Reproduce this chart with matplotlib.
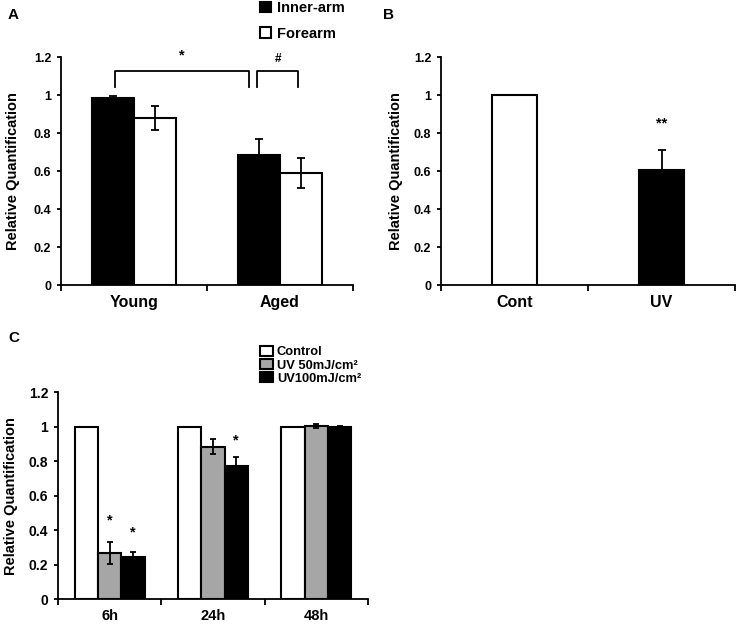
import matplotlib
matplotlib.use('Agg')
import matplotlib.pyplot as plt
import numpy as np

plt.rcParams['font.family'] = ['Liberation Sans', 'DejaVu Sans']
plt.rcParams['font.weight'] = 'bold'

# panel A data
a_groups = ['Young', 'Aged']
a_inner = [0.985, 0.685]
a_inner_err = [0.008, 0.085]
a_fore = [0.88, 0.59]
a_fore_err = [0.062, 0.08]

# panel B data
b_groups = ['Cont', 'UV']
b_vals = [1.0, 0.605]
b_err = [0.0, 0.105]

# panel C data
c_groups = ['6h', '24h', '48h']
c_ctrl = [1.0, 1.0, 1.0]
c_uv50 = [0.27, 0.885, 1.005]
c_uv50_err = [0.065, 0.045, 0.01]
c_uv100 = [0.245, 0.775, 1.0]
c_uv100_err = [0.027, 0.05, 0.006]

W, H = 736, 625
fig = plt.figure(figsize=(W / 100, H / 100), dpi=100)

def px_axes(x0, y0, x1, y1):
    return fig.add_axes([x0 / W, 1 - y1 / H, (x1 - x0) / W, (y1 - y0) / H])

def style(ax, labels, tick_fs, ytick_fs, ylab_x):
    n = len(labels)
    ax.set_xlim(0, n)
    ax.set_ylim(0, 1.2)
    ax.spines['top'].set_visible(False)
    ax.spines['right'].set_visible(False)
    for s in ('left', 'bottom'):
        ax.spines[s].set_linewidth(1.3)
    ax.set_yticks(np.arange(0, 1.21, 0.2))
    ax.set_yticklabels(['0', '0.2', '0.4', '0.6', '0.8', '1', '1.2'])
    ax.tick_params(axis='y', direction='out', length=3, width=1.3, labelsize=ytick_fs, pad=4)
    ax.set_xticks(np.arange(0, n + 1))
    ax.set_xticklabels([])
    ax.tick_params(axis='x', which='major', direction='out', length=4, width=1.3)
    ax.set_xticks(np.arange(n) + 0.5, minor=True)
    ax.set_xticklabels(labels, minor=True, fontsize=tick_fs, fontweight='bold')
    ax.tick_params(axis='x', which='minor', length=0, pad=7)
    ax.set_ylabel('Relative Quantification', fontsize=10.5, fontweight='bold')
    ax.yaxis.set_label_coords(ylab_x, 0.5)

ekw = dict(elinewidth=1.3, capthick=1.3, ecolor='black')

# ---- panel A ----
axA = px_axes(61, 57, 353, 285)
xa = np.arange(len(a_groups)) + 0.5
bw = 0.29
bi = axA.bar(xa - bw / 2, a_inner, bw, color='black', edgecolor='black', linewidth=1.5,
             yerr=a_inner_err, capsize=3, error_kw=ekw, label='Inner-arm')
bf = axA.bar(xa + bw / 2, a_fore, bw, color='white', edgecolor='black', linewidth=1.5,
             yerr=a_fore_err, capsize=3, error_kw=ekw, label='Forearm')
style(axA, a_groups, 11.5, 9, -0.14)

# significance brackets
yb, yt = 1.04, 1.127
x1, x2 = xa[0] - bw / 2 + 0.015, xa[1] - bw / 2 - 0.07
axA.plot([x1, x1, x2, x2], [yb, yt, yt, yb], color='black', lw=1.3, clip_on=False)
axA.text((x1 + x2) / 2, 1.21, '*', ha='center', va='center', fontsize=10.5)
x3, x4 = xa[1] - bw / 2 - 0.01, xa[1] + bw / 2 - 0.02
axA.plot([x3, x3, x4, x4], [yb, yt, yt, yb], color='black', lw=1.3, clip_on=False)
axA.text((x3 + x4) / 2, 1.19, '#', ha='center', va='center', fontsize=8.5)

axA.legend(handles=[bi, bf], loc='upper left', bbox_to_anchor=(260 / W, 1 - 1 / H),
           bbox_transform=fig.transFigure, frameon=False, fontsize=10.5,
           handlelength=0.75, handleheight=0.75, handletextpad=0.45, labelspacing=0.8,
           borderpad=0, borderaxespad=0)
fig.text(8 / W, 1 - 15 / H, 'A', fontsize=11, fontweight='bold', va='center')

# ---- panel B ----
axB = px_axes(441, 57, 735, 285)
xb = np.arange(len(b_groups)) + 0.5
bwb = 0.31
axB.bar(xb, b_vals, bwb, color=['white', 'black'], edgecolor='black', linewidth=1.5)
axB.errorbar(xb[1:], b_vals[1:], yerr=[[0], b_err[1:]], fmt='none', capsize=3, **ekw)
style(axB, b_groups, 11.5, 9, -0.129)
axB.text(xb[1], 0.85, '**', ha='center', va='center', fontsize=10.5)
fig.text(383 / W, 1 - 15 / H, 'B', fontsize=11, fontweight='bold', va='center')

# ---- panel C ----
axC = px_axes(58, 392.3, 368, 599.3)
xc = np.arange(len(c_groups)) + 0.5
bwc = 0.225
h1 = axC.bar(xc - bwc, c_ctrl, bwc, color='white', edgecolor='black', linewidth=1.5,
             label='Control')
h2 = axC.bar(xc, c_uv50, bwc, color='#a6a6a6', edgecolor='black', linewidth=1.5,
             yerr=c_uv50_err, capsize=2.5, error_kw=ekw, label='UV 50mJ/cm²')
h3 = axC.bar(xc + bwc, c_uv100, bwc, color='black', edgecolor='black', linewidth=1.5,
             yerr=c_uv100_err, capsize=2.5, error_kw=ekw, label='UV100mJ/cm²')
style(axC, c_groups, 10.5, 10, -0.129)
axC.text(xc[0], 0.455, '*', ha='center', va='center', fontsize=10.5)
axC.text(xc[0] + bwc, 0.39, '*', ha='center', va='center', fontsize=10.5)
axC.text(xc[1] + bwc, 0.92, '*', ha='center', va='center', fontsize=10.5)
axC.legend(handles=[h1, h2, h3], loc='upper left', bbox_to_anchor=(260 / W, 1 - 346 / H),
           bbox_transform=fig.transFigure, frameon=False, fontsize=9.3,
           handlelength=1.0, handleheight=0.8, handletextpad=0.3, labelspacing=0.05,
           borderpad=0, borderaxespad=0)
fig.text(8 / W, 1 - 338 / H, 'C', fontsize=11, fontweight='bold', va='center')

fig.savefig('out.png', dpi=100)
